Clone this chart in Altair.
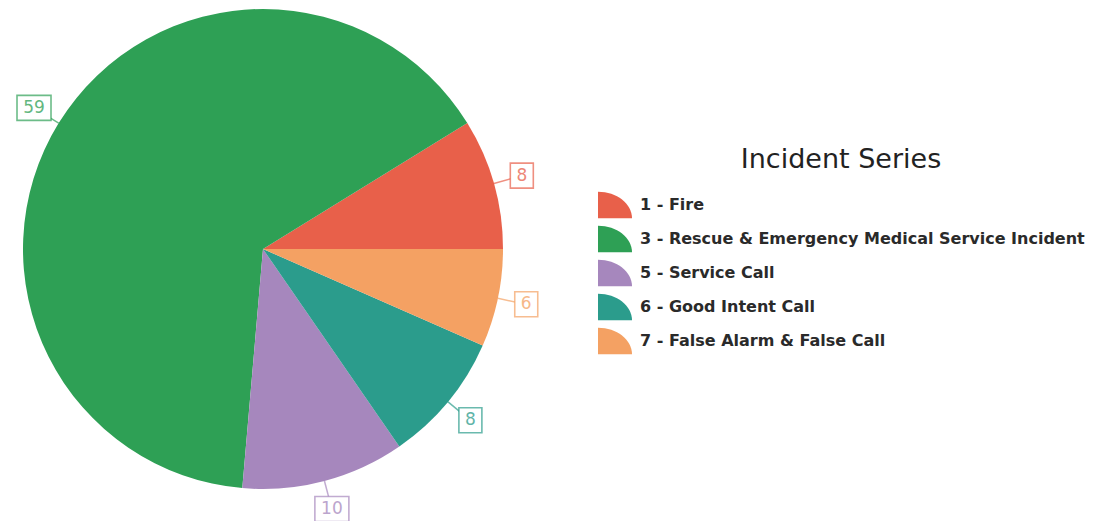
import math
import altair as alt
import pandas as pd

codes = [1, 3, 5, 6, 7]
series = [
    "1 - Fire",
    "3 - Rescue & Emergency Medical Service Incident",
    "5 - Service Call",
    "6 - Good Intent Call",
    "7 - False Alarm & False Call",
]
counts = [8, 59, 10, 8, 6]
colors = ["#E8604A", "#2EA055", "#A687BD", "#2B9C8C", "#F4A163"]

df = pd.DataFrame({"code": codes, "series": series, "value": counts})

CX, CY, R = 255, 241, 240
LR = R + 29  # label box centre radius
PI = math.pi

color_scale = alt.Scale(domain=series, range=colors)

base = alt.Chart(df)

pie = base.mark_arc(outerRadius=R, stroke=None).encode(
    theta=alt.Theta("value:Q", stack=True,
                    scale=alt.Scale(range=[PI / 2, PI / 2 + 2 * PI])),
    order=alt.Order("code:Q", sort="descending"),
    color=alt.Color(
        "series:N", scale=color_scale, sort=series,
        legend=alt.Legend(
            title="Incident Series", orient="none", legendX=590, legendY=139,
            titleFontSize=27, titleFont="DejaVu Sans", titleFontWeight="normal",
            titleColor="#222222", titleAnchor="middle", titlePadding=14,
            titleLimit=500,
            labelFont="DejaVu Sans", labelFontSize=16, labelFontWeight="bold",
            labelColor="#2a2a2a",
            labelOffset=8, labelLimit=600,
            symbolType="M -1 0.78 L -1 -0.78 A 2 1.56 0 0 1 1 0.78 Z",
            symbolSize=1156, symbolStrokeWidth=0, symbolOpacity=1,
            rowPadding=3, padding=0,
        ),
    ),
    x=alt.value(CX),
    y=alt.value(CY),
)

lab = base.transform_window(
    cum="sum(value)", sort=[alt.SortField("code", order="descending")]
).transform_joinaggregate(
    total="sum(value)"
).transform_calculate(
    ang=f"{PI/2} + 2*PI*(datum.cum - datum.value/2)/datum.total",
    label="toString(datum.value)",
).transform_calculate(
    px=f"{CX} + {LR}*sin(datum.ang)",
    py=f"{CY} - {LR}*cos(datum.ang)",
    lx1=f"{CX} + {R}*sin(datum.ang)",
    ly1=f"{CY} - {R}*cos(datum.ang)",
    lx2=f"{CX} + {R + 20}*sin(datum.ang)",
    ly2=f"{CY} - {R + 20}*cos(datum.ang)",
    hw="6 + 5.5*length(datum.label)",
).transform_calculate(
    bx1="datum.px - datum.hw", bx2="datum.px + datum.hw",
    by1="datum.py - 12.5", by2="datum.py + 12.5",
)

leader = lab.mark_rule(strokeWidth=1.5, opacity=0.7).encode(
    x=alt.X("lx1:Q", scale=None), y=alt.Y("ly1:Q", scale=None),
    x2="lx2:Q", y2="ly2:Q",
    color=alt.Color("series:N", scale=color_scale, legend=None),
)

box = lab.mark_rect(fill="white", strokeWidth=1.6, strokeOpacity=0.7).encode(
    x=alt.X("bx1:Q", scale=None), x2="bx2:Q",
    y=alt.Y("by1:Q", scale=None), y2="by2:Q",
    stroke=alt.Color("series:N", scale=color_scale, legend=None),
)

txt = lab.mark_text(font="DejaVu Sans", fontSize=17, align="center",
                    baseline="middle", opacity=0.75).encode(
    x=alt.X("px:Q", scale=None), y=alt.Y("py:Q", scale=None),
    text="label:N",
    color=alt.Color("series:N", scale=color_scale, legend=None),
)

chart = alt.layer(pie, leader, box, txt).properties(
    width=1078, height=513, autosize="none", padding=0
).configure_view(stroke=None).resolve_scale(color="shared")

chart.save("out.html", embed_options={"renderer": "svg", "actions": False})
